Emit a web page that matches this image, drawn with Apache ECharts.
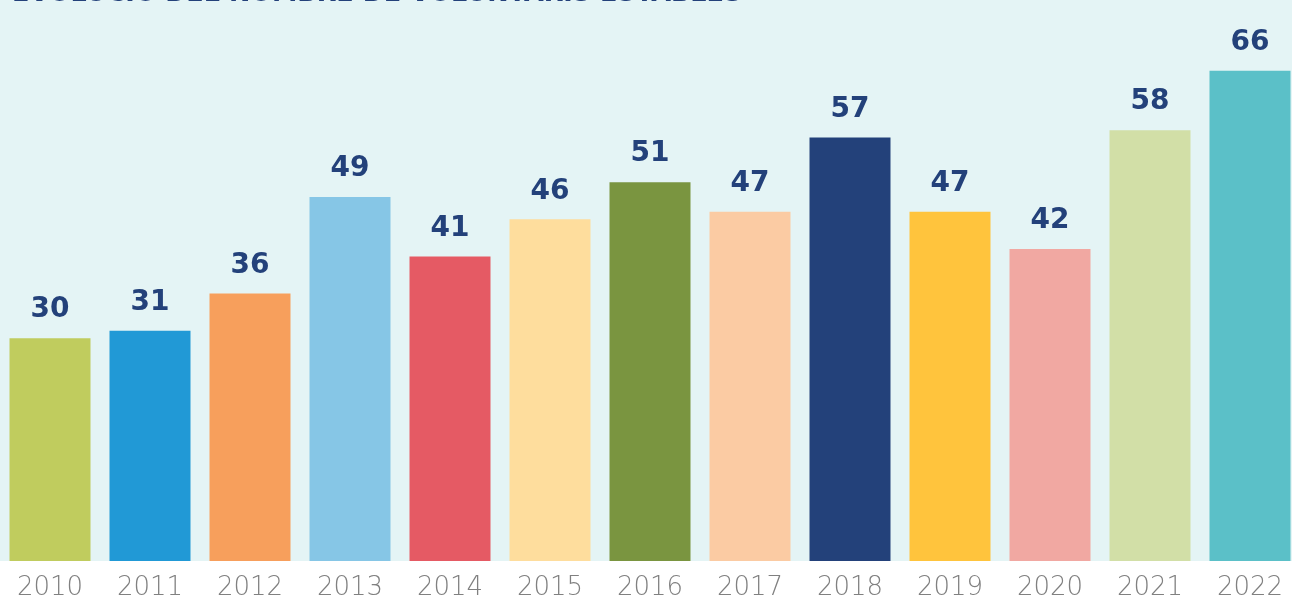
<!DOCTYPE html>
<html>
<head>
<meta charset="utf-8">
<script src="https://cdn.jsdelivr.net/npm/echarts@6/dist/echarts.min.js"></script>
<style>html,body{margin:0;padding:0;background:#fff}#c{width:1292px;height:596px}</style>
</head>
<body>
<div id="c"></div>
<script>
const titleText = 'EVOLUCIÓ DEL NOMBRE DE VOLUNTARIS ESTABLES';
const years = ['2010','2011','2012','2013','2014','2015','2016','2017','2018','2019','2020','2021','2022'];
const volunteers = [30, 31, 36, 49, 41, 46, 51, 47, 57, 47, 42, 58, 66];
const barColors = ['#C0CC5E','#2199D6','#F79F5C','#86C6E6','#E55A64','#FEDD9D','#7A9540','#FBCBA3','#23417A','#FFC43D','#F1A8A2','#D2DFA7','#5BC0C8'];

const chart = echarts.init(document.getElementById('c'));
chart.setOption({
  backgroundColor: '#ffffff',
  animation: false,
  graphic: [
    { type: 'rect', z: -10, silent: true, shape: { x: 0, y: 0, width: 1292, height: 561 }, style: { fill: '#E4F4F5' } },
    { type: 'text', z: 5, x: 12, y: 7, style: { text: titleText, verticalAlign: 'bottom', align: 'left', fontSize: 25.5, fontWeight: 'bold', fontFamily: 'DejaVu Sans', fill: '#23417A' } }
  ],
  grid: { left: 0, width: 1300, top: 41, bottom: 35, outerBoundsMode: 'none', containLabel: false },
  xAxis: {
    type: 'category',
    data: years,
    axisLine: { show: false },
    axisTick: { show: false },
    axisLabel: { margin: 14, fontSize: 26, fontFamily: 'DejaVu Sans', fontWeight: 200, color: '#808080' }
  },
  yAxis: { type: 'value', min: 0, max: 70, show: false, splitLine: { show: false } },
  series: [{
    type: 'bar',
    barWidth: 81,
    data: volunteers.map((v, i) => ({ value: v, itemStyle: { color: barColors[i] } })),
    label: { show: true, position: 'top', distance: 14, fontSize: 28, fontWeight: 'bold', fontFamily: 'DejaVu Sans', color: '#23417A' }
  }]
});
</script>
</body>
</html>
